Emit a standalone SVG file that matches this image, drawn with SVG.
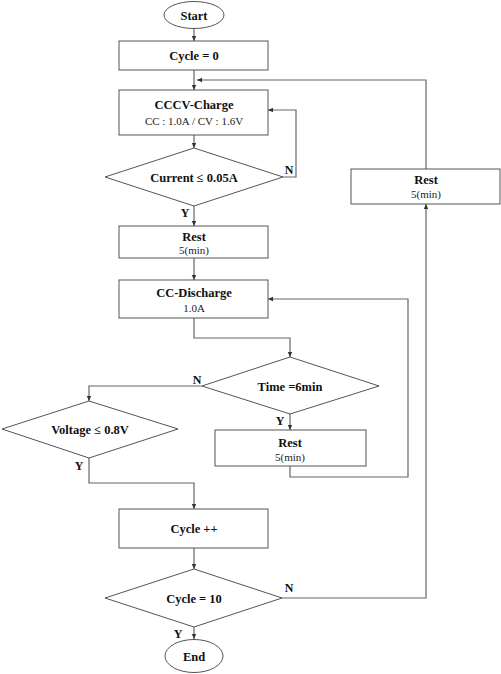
<svg xmlns="http://www.w3.org/2000/svg" width="501" height="674" viewBox="0 0 501 674">
<defs>
<marker id="ah" markerWidth="6" markerHeight="6" refX="5" refY="3" orient="auto" markerUnits="userSpaceOnUse">
<path d="M0,0.8 L5,3 L0,5.2 Z" fill="#333"/>
</marker>
<style>
.s{fill:#fff;stroke:#555;stroke-width:1}
.c{fill:none;stroke:#666;stroke-width:1.2;marker-end:url(#ah)}
.n{fill:none;stroke:#666;stroke-width:1.2}
.b{font-family:"Liberation Serif",serif;font-weight:bold;font-size:12.5px;fill:#111;text-anchor:middle}
.r{font-family:"Liberation Serif",serif;font-size:11px;fill:#222;text-anchor:middle}
.l{font-family:"Liberation Serif",serif;font-weight:bold;font-size:12px;fill:#111;text-anchor:middle}
</style>
</defs>
<rect width="501" height="674" fill="#fff"/>
<g id="connectors">
<path class="c" d="M194,29 V41"/>
<path class="c" d="M194,70 V90"/>
<path class="c" d="M426,169 V80 H197"/>
<path class="c" d="M194,135 V148"/>
<path class="c" d="M283,177 H296 V110 H268"/>
<path class="c" d="M194,206 V226"/>
<path class="c" d="M194,258 V280"/>
<path class="c" d="M194,318 V338 H290 V357"/>
<path class="c" d="M290,414 V430"/>
<path class="c" d="M290,466 V477 H408 V299 H268"/>
<path class="c" d="M202,386 H89 V401"/>
<path class="c" d="M89,458 V483 H194 V509"/>
<path class="c" d="M194,548 V569"/>
<path class="c" d="M194,627 V639"/>
<path class="c" d="M282,598 H426 V204"/>
<text class="l" x="289" y="174">N</text>
<text class="l" x="185" y="217">Y</text>
<text class="l" x="197" y="384">N</text>
<text class="l" x="280" y="425">Y</text>
<text class="l" x="79" y="470">Y</text>
<text class="l" x="178" y="638">Y</text>
<text class="l" x="289" y="592">N</text>
</g>
<g id="start"><ellipse class="s" cx="194" cy="15" rx="30" ry="13.5"/><text class="b" x="194" y="20">Start</text></g>
<g id="cycle0"><rect class="s" x="119" y="41" width="149" height="29"/><text class="b" x="194" y="60">Cycle = 0</text></g>
<g id="cccv"><rect class="s" x="119" y="90" width="149" height="45"/><text class="b" x="194" y="109">CCCV-Charge</text><text class="r" x="194" y="125">CC :  1.0A / CV : 1.6V</text></g>
<g id="current"><polygon class="s" points="194,148 283,177 194,206 105,177"/><text class="b" x="194" y="182">Current ≤ 0.05A</text></g>
<g id="rest1"><rect class="s" x="119" y="226" width="149" height="32"/><text class="b" x="194" y="241">Rest</text><text class="r" x="194" y="254">5(min)</text></g>
<g id="discharge"><rect class="s" x="119" y="280" width="149" height="38"/><text class="b" x="194" y="297">CC-Discharge</text><text class="r" x="194" y="312">1.0A</text></g>
<g id="time"><polygon class="s" points="290,357 379,386 290,414 202,386"/><text class="b" x="290" y="391">Time =6min</text></g>
<g id="rest2"><rect class="s" x="215" y="430" width="151" height="36"/><text class="b" x="290" y="447">Rest</text><text class="r" x="290" y="461">5(min)</text></g>
<g id="voltage"><polygon class="s" points="89,401 178,429 89,458 2,429"/><text class="b" x="90" y="434">Voltage ≤ 0.8V</text></g>
<g id="cyclepp"><rect class="s" x="119" y="509" width="149" height="39"/><text class="b" x="194" y="533">Cycle ++</text></g>
<g id="cycle10"><polygon class="s" points="194,569 282,598 194,627 105,598"/><text class="b" x="194" y="603">Cycle = 10</text></g>
<g id="end"><ellipse class="s" cx="194" cy="656" rx="29" ry="16.5"/><text class="b" x="194" y="661">End</text></g>
<g id="rest3"><rect class="s" x="351" y="169" width="149" height="35"/><text class="b" x="426" y="184">Rest</text><text class="r" x="426" y="198">5(min)</text></g>
</svg>
